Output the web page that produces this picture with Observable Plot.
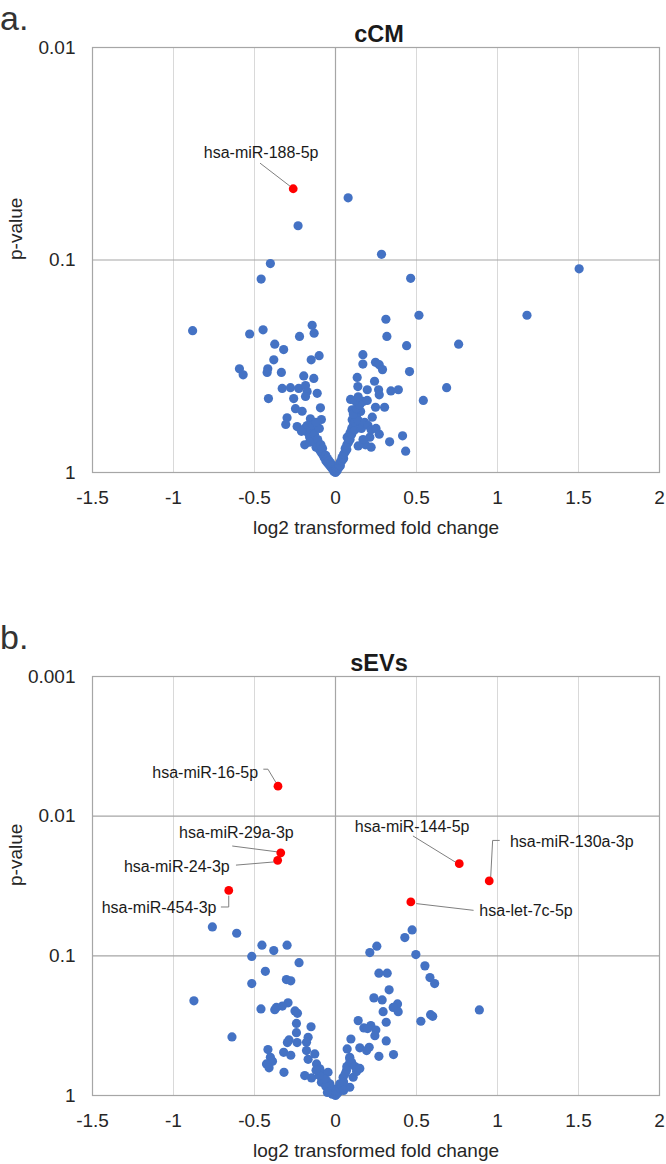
<!DOCTYPE html>
<html><head><meta charset="utf-8">
<script src="https://cdn.jsdelivr.net/npm/d3@7"></script>
<script src="https://cdn.jsdelivr.net/npm/@observablehq/plot@0.6"></script>
<style>
html,body{margin:0;padding:0;background:#fff;}
#page{position:relative;width:666px;height:1164px;overflow:hidden;font-family:"Liberation Sans",Arial,sans-serif;color:#262626;}
.panel{position:absolute;left:0;}
.letter{position:absolute;left:0;font-size:34px;line-height:1;color:#333;}
</style></head><body><div id="page"></div>
<script>
// ---------- data ----------
const xTicks = [-1.5, -1, -0.5, 0, 0.5, 1, 1.5, 2];
const yTicksA = [0.01, 0.1, 1];
const yTicksB = [0.001, 0.01, 0.1, 1];

// panel a: cCM (log2 fold change, p-value)
const cCM_fc = [0.078,-0.231,-0.402,-0.459,-0.882,-0.530,-0.447,-0.144,-0.132,-0.222,-0.375,-0.320,0.284,0.464,1.504,0.311,0.515,1.182,0.317,0.439,0.760,-0.381,-0.150,-0.101,-0.593,-0.570,-0.418,-0.422,-0.334,-0.196,-0.134,-0.329,-0.278,-0.227,-0.185,-0.175,-0.113,-0.414,-0.258,-0.185,-0.247,-0.206,-0.093,-0.299,-0.307,-0.237,-0.155,-0.087,-0.175,-0.190,
 0.169,0.169,0.247,0.270,0.290,0.457,0.134,0.241,0.138,0.196,0.266,0.270,0.342,0.388,0.686,0.542,0.093,0.171,0.196,0.247,0.303,0.103,0.155,0.227,0.103,0.165,0.334,0.414,0.433,0.212,0.185,0.072,
 -0.19,-0.17,-0.16,-0.15,-0.14,-0.13,-0.12,-0.12,-0.11,-0.10,-0.09,-0.09,-0.08,-0.08,-0.07,-0.06,-0.06,-0.05,-0.05,-0.04,-0.04,-0.03,-0.03,-0.02,-0.02,-0.01,-0.01,0.0,0.0,-0.14,-0.10,-0.12,-0.21,-0.16,
 0.01,0.02,0.02,0.03,0.03,0.04,0.04,0.05,0.05,0.06,0.06,0.07,0.07,0.08,0.08,0.09,0.09,0.10,0.10,0.11,0.12,0.12,0.13,0.14,0.11,0.13,0.15,0.12,0.14,0.16,0.18,0.20,0.22,0.25,0.27,0.17,0.14,0.22];
const cCM_p = [0.051,0.069,0.104,0.123,0.215,0.223,0.213,0.203,0.221,0.229,0.249,0.264,0.094,0.122,0.110,0.190,0.182,0.182,0.229,0.253,0.249,0.295,0.295,0.282,0.325,0.347,0.325,0.338,0.338,0.351,0.361,0.402,0.399,0.402,0.390,0.416,0.424,0.449,0.449,0.439,0.501,0.515,0.496,0.553,0.594,0.608,0.559,0.563,0.601,0.741,
 0.279,0.309,0.303,0.311,0.328,0.335,0.357,0.372,0.394,0.408,0.408,0.431,0.413,0.408,0.399,0.458,0.453,0.463,0.458,0.493,0.493,0.507,0.516,0.549,0.565,0.601,0.717,0.672,0.794,0.682,0.741,0.682,
 0.62,0.65,0.68,0.63,0.70,0.66,0.72,0.76,0.70,0.78,0.74,0.80,0.82,0.77,0.85,0.83,0.88,0.86,0.90,0.92,0.88,0.94,0.90,0.96,0.93,0.97,0.99,0.98,1.0,0.60,0.62,0.58,0.64,0.72,
 0.98,0.95,0.92,0.93,0.89,0.88,0.85,0.86,0.82,0.80,0.77,0.78,0.74,0.72,0.69,0.70,0.65,0.66,0.62,0.60,0.63,0.58,0.55,0.57,0.53,0.50,0.48,0.46,0.44,0.62,0.58,0.60,0.63,0.62,0.66,0.70,0.75,0.76];

// panel b: sEVs
const sEV_fc = [-0.760,-0.610,-0.454,-0.381,-0.299,-0.517,-0.225,0.473,0.428,0.255,0.212,0.496,-0.433,-0.517,-0.303,-0.276,-0.874,-0.293,-0.328,-0.365,-0.375,-0.460,-0.250,-0.235,-0.241,-0.151,-0.241,-0.639,-0.169,-0.287,-0.237,-0.179,-0.297,-0.417,-0.320,-0.276,-0.179,-0.128,-0.402,-0.389,-0.426,-0.410,-0.169,-0.117,-0.318,-0.190,-0.148,-0.097,-0.077,-0.056,-0.087,-0.035,-0.015,0.006,
 0.140,0.095,0.072,0.088,0.068,0.047,0.027,0.109,0.088,0.552,0.583,0.612,0.268,0.319,0.331,0.237,0.288,0.383,0.356,0.387,0.294,0.888,0.527,0.600,0.587,0.313,0.175,0.218,0.198,0.249,0.243,0.313,0.208,0.150,0.192,0.268,0.358,0.088,0.084,0.130,-0.087,-0.046,
 -0.02,0.0,0.01,0.02,-0.01,0.03,0.04,0.05,-0.03,-0.04,-0.06,-0.07,0.06,0.07,0.10,0.12,0.15,0.05,-0.05,-0.10,-0.12];
const sEV_p = [0.0621,0.0689,0.0839,0.0917,0.0839,0.101,0.112,0.0652,0.074,0.0853,0.0947,0.098,0.129,0.158,0.148,0.151,0.210,0.217,0.229,0.234,0.243,0.240,0.248,0.258,0.305,0.322,0.355,0.381,0.383,0.400,0.418,0.416,0.418,0.469,0.491,0.515,0.477,0.504,0.533,0.569,0.594,0.634,0.551,0.594,0.682,0.720,0.748,0.644,0.700,0.782,0.804,0.825,0.947,0.896,
 0.291,0.394,0.464,0.533,0.663,0.740,0.825,0.740,0.873,0.118,0.143,0.158,0.133,0.133,0.175,0.200,0.207,0.221,0.234,0.251,0.251,0.244,0.294,0.271,0.264,0.299,0.328,0.316,0.332,0.340,0.373,0.407,0.452,0.456,0.477,0.524,0.509,0.546,0.594,0.674,0.740,0.682,
 0.98,1.0,0.97,0.94,0.92,0.90,0.86,0.80,0.88,0.85,0.86,0.76,0.70,0.62,0.58,0.62,0.64,0.92,0.95,0.72,0.66];

// highlighted miRNAs
const cCM_hitNames = ["hsa-miR-188-5p"];
const cCM_hitFc = [-0.261];
const cCM_hitP = [0.0462];
const sEV_hitNames = ["hsa-miR-16-5p","hsa-miR-29a-3p","hsa-miR-24-3p","hsa-miR-454-3p","hsa-miR-144-5p","hsa-miR-130a-3p","hsa-let-7c-5p"];
const sEV_hitFc = [-0.355,-0.338,-0.357,-0.659,0.764,0.949,0.465];
const sEV_hitP = [0.0061,0.0183,0.0207,0.034,0.0219,0.0291,0.0411];

// ---------- callout layout (label anchor + leader vertices, in data units) ----------
const cCM_callouts = [
  {name:"hsa-miR-188-5p", lx:-0.105, lp:0.0312, anchor:"end", path:[[-0.464,0.0351],[-0.278,0.0451]]}
];
const sEV_callouts = [
  {name:"hsa-miR-16-5p", lx:-0.478, lp:0.00491, anchor:"end", path:[[-0.443,0.00461],[-0.417,0.00461],[-0.369,0.00571]]},
  {name:"hsa-miR-29a-3p", lx:-0.258, lp:0.0132, anchor:"end", path:[[-0.635,0.01637],[-0.363,0.01799]]},
  {name:"hsa-miR-24-3p", lx:-0.653, lp:0.0231, anchor:"end", path:[[-0.612,0.0224],[-0.365,0.0212]]},
  {name:"hsa-miR-454-3p", lx:-0.735, lp:0.0452, anchor:"end", path:[[-0.705,0.0447],[-0.659,0.0447],[-0.659,0.0373]]},
  {name:"hsa-miR-144-5p", lx:0.119, lp:0.0120, anchor:"start", path:[[0.480,0.0139],[0.748,0.0216]]},
  {name:"hsa-miR-130a-3p", lx:1.077, lp:0.01534, anchor:"start", path:[[1.011,0.01492],[0.970,0.01492],[0.958,0.0273]]},
  {name:"hsa-let-7c-5p", lx:0.888, lp:0.0477, anchor:"start", path:[[0.501,0.0423],[0.850,0.0472]]}
];

// ---------- drawing ----------
const FONT = '"Liberation Sans", Arial, sans-serif';
function volcano(o) {
  const pts = o.fc.map((v, i) => ({fc: v, p: o.p[i]}));
  const hits = o.hitFc.map((v, i) => ({fc: v, p: o.hitP[i], name: o.hitNames[i]}));
  const leaders = o.callouts.flatMap((c, k) => c.path.map(([x, y]) => ({id: k, x, y})));
  const yTicks = o.yTicks;
  const top = yTicks[0];
  const labelOpts = {x: "lx", y: "lp", text: "name", fontSize: 16, fill: "#1a1a1a", lineAnchor: "middle"};
  return Plot.plot({
    width: 666, height: o.height,
    marginLeft: 92, marginRight: 7, marginTop: o.marginTop, marginBottom: o.marginBottom,
    x: {domain: [-1.5, 2]},
    y: {type: "log", domain: [1, top]},
    style: {fontFamily: FONT, fontSize: "19px", color: "#262626", background: "transparent", overflow: "visible"},
    marks: [
      Plot.ruleX(xTicks.filter(v => v > -1.5 && v < 2 && v !== 0), {stroke: "#d9d9d9", strokeWidth: 1}),
      Plot.ruleY(yTicks.filter(v => v !== 1 && v !== top), {stroke: "#a6a6a6", strokeWidth: 1.2}),
      Plot.ruleX([0], {stroke: "#a6a6a6", strokeWidth: 1.2}),
      Plot.frame({stroke: "#a6a6a6", strokeWidth: 1.2}),
      Plot.axisX(xTicks, {tickSize: 0, tickPadding: 18, tickFormat: d => String(d), label: null}),
      Plot.axisY(yTicks, {tickSize: 0, tickPadding: 17, tickFormat: d => String(d), label: null}),
      Plot.dot(pts, {x: "fc", y: "p", r: 4.6, fill: "#4472c4"}),
      Plot.line(leaders, {x: "x", y: "y", z: "id", stroke: "#7f7f7f", strokeWidth: 1}),
      Plot.dot(hits, {x: "fc", y: "p", r: 4.4, fill: "#ff0000"}),
      Plot.text(o.callouts.filter(d => d.anchor === "end"), {...labelOpts, textAnchor: "end"}),
      Plot.text(o.callouts.filter(d => d.anchor === "start"), {...labelOpts, textAnchor: "start"}),
      Plot.text([o.title], {frameAnchor: "top", dx: 3, dy: -6, lineAnchor: "bottom", fontWeight: "bold", fontSize: 23.5, fill: "#1a1a1a"}),
      Plot.text(["log2 transformed fold change"], {frameAnchor: "bottom", dy: 61, lineAnchor: "bottom", fill: "#262626"}),
      Plot.text(["p-value"], {frameAnchor: "left", dx: -77, rotate: -90, fill: "#262626"})
    ]
  });
}

const page = document.getElementById("page");
function place(node, topPx) {
  node.classList.add("panel");
  node.style.top = topPx + "px";
  page.appendChild(node);
}
place(volcano({title: "cCM", fc: cCM_fc, p: cCM_p, hitFc: cCM_hitFc, hitP: cCM_hitP, hitNames: cCM_hitNames,
  callouts: cCM_callouts, yTicks: yTicksA, height: 570, marginTop: 47, marginBottom: 98}), 0);
place(volcano({title: "sEVs", fc: sEV_fc, p: sEV_p, hitFc: sEV_hitFc, hitP: sEV_hitP, hitNames: sEV_hitNames,
  callouts: sEV_callouts, yTicks: yTicksB, height: 584, marginTop: 96, marginBottom: 69}), 580);

for (const [txt, t] of [["a.", 1], ["b.", 620]]) {
  const d = document.createElement("div");
  d.className = "letter";
  d.textContent = txt;
  d.style.top = t + "px";
  page.appendChild(d);
}
</script>
</body></html>
